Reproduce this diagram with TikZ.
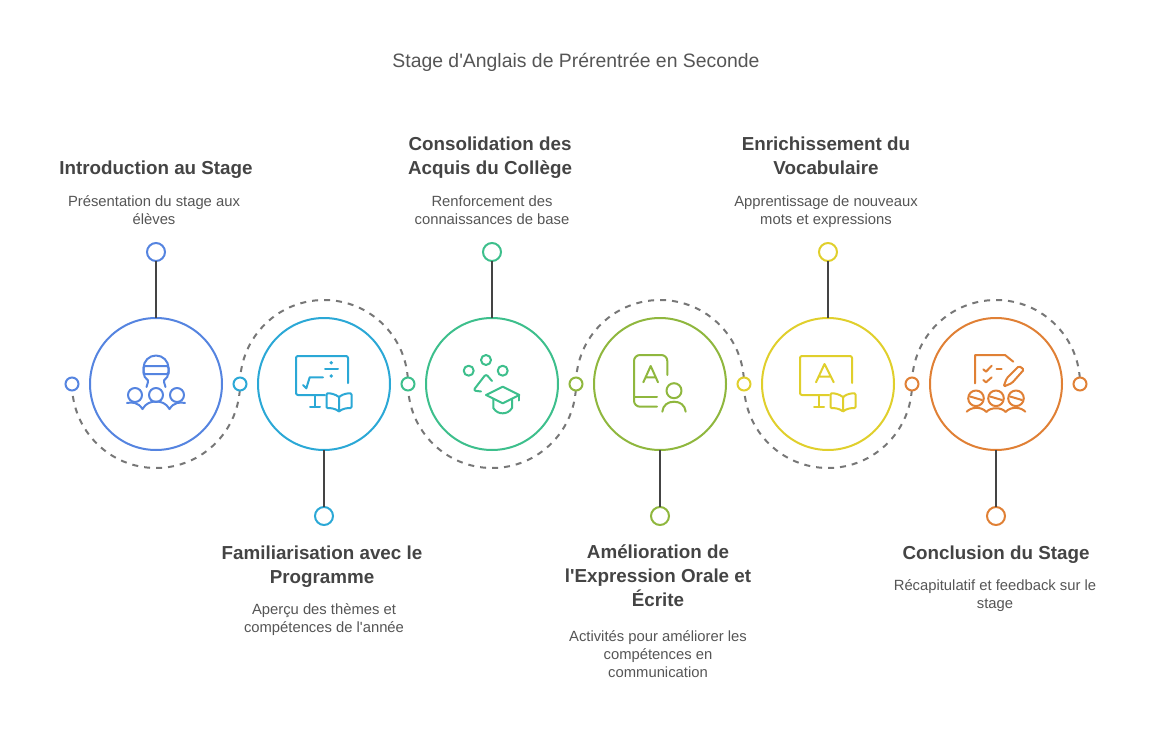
\documentclass[tikz,border=0pt]{standalone}
\usepackage{fontspec}
\setmainfont{Liberation Sans}
\usetikzlibrary{backgrounds}
\definecolor{bluec}{HTML}{5584E0}
\definecolor{tealc}{HTML}{2BA8D6}
\definecolor{greenc}{HTML}{3DBF8C}
\definecolor{olivec}{HTML}{8FB73E}
\definecolor{yellowc}{HTML}{E0CF2C}
\definecolor{orangec}{HTML}{E08035}
\definecolor{inkc}{HTML}{444444}
\definecolor{textc}{HTML}{555555}
\definecolor{dashc}{HTML}{777777}
\tikzset{
  bigdisc/.style={circle, draw, line width=2, fill=white, minimum size=132, inner sep=0, outer sep=0},
  enddot/.style={circle, draw, line width=2, fill=white, minimum size=18, inner sep=0, outer sep=0},
  railnode/.style={circle, draw, line width=2, fill=white, minimum size=13, inner sep=0, outer sep=0},
  stem/.style={draw=inkc, line width=2},
  track/.style={draw=dashc, line width=2, dash pattern=on 6 off 6},
  icon/.style={line width=2, line cap=round, line join=round},
  headline/.style={font=\fontsize{18.8}{24}\selectfont\bfseries, text=inkc, align=center, inner sep=0},
  blurb/.style={font=\fontsize{14.8}{18}\selectfont, text=textc, align=center, inner sep=0},
  pics/screenbook/.style={code={
    \draw[rounded corners=2] (24,-1) -- (24,-28) -- (-28,-28) -- (-28,11) -- (1,11);
    \draw (-9,11) -- (-9,23) (-14,23) -- (-4,23);
    \draw[rounded corners=1] (15,13) .. controls (11,10) and (6,9) .. (2.5,9.5) -- (2.5,24) .. controls (7,24) and (11,24.5) .. (15,27.5) .. controls (19,24.5) and (23,24) .. (27.5,24) -- (27.5,9.5) .. controls (24,9) and (19,10) .. (15,13) -- (15,27.5);
  }}
}

\begin{document}
\begin{tikzpicture}[x=1pt, y=1pt]
\useasboundingbox (0,0) rectangle (1152,-744);

\node[font=\fontsize{19.4}{24}\selectfont, text=textc, inner sep=0] (title) at (576,-62) {Stage d\textquotesingle Anglais de Prérentrée en Seconde};

% main circles
\foreach \name/\px/\col in {intro/156/bluec, fam/324/tealc, cons/492/greenc, amel/660/olivec, enri/828/yellowc, conc/996/orangec}
  \node[bigdisc, draw=\col] (\name) at (\px,-384) {};

% small circles on the dashed track
\foreach \name/\px/\col in {railA/72/bluec, railB/240/tealc, railC/408/greenc, railD/576/olivec, railE/744/yellowc, railF/912/orangec, railG/1080/orangec}
  \node[railnode, draw=\col] (\name) at (\px,-384) {};

\begin{scope}[on background layer]
\draw[track] (railA.center) arc (180:360:84);
\draw[track] (railB.center) arc (180:0:84);
\draw[track] (railC.center) arc (180:360:84);
\draw[track] (railD.center) arc (180:0:84);
\draw[track] (railE.center) arc (180:360:84);
\draw[track] (railF.center) arc (180:0:84);
\end{scope}

% stems
\foreach \name/\px/\py/\col in {intro/156/-252/bluec, fam/324/-516/tealc, cons/492/-252/greenc, amel/660/-516/olivec, enri/828/-252/yellowc, conc/996/-516/orangec} {
  \node[enddot, draw=\col] (\name end) at (\px,\py) {};
  \draw[stem] (\name end) -- (\name);
}

% labels
\node[headline] (introhead) at (156,-170) {Introduction au Stage};
\node[blurb] (introtext) at (154,-210) {Présentation du stage aux\\élèves};
\node[headline] (famhead) at (322,-567) {Familiarisation avec le\\Programme};
\node[blurb] (famtext) at (324,-620) {Aperçu des thèmes et\\compétences de l\textquotesingle année};
\node[headline] (conshead) at (490,-158) {Consolidation des\\Acquis du Collège};
\node[blurb] (constext) at (492,-210) {Renforcement des\\connaissances de base};
\node[headline] (amelhead) at (658,-576) {Amélioration de\\l\textquotesingle Expression Orale et\\Écrite};
\node[blurb] (ameltext) at (658,-654) {Activités pour améliorer les\\compétences en\\communication};
\node[headline] (enrihead) at (826,-156) {Enrichissement du\\Vocabulaire};
\node[blurb] (enritext) at (826,-212) {Apprentissage de nouveaux\\mots et expressions};
\node[headline] (conchead) at (996,-555) {Conclusion du Stage};
\node[blurb] (conctext) at (995,-596) {Récapitulatif et feedback sur le\\stage};

% icon of the first circle
\begin{scope}[shift={(156,-384)}, yscale=-1, icon, draw=bluec]
\draw (-12.5,-10) -- (-12.5,-16) arc (180:360:12.5) -- (12.5,-10);
\draw[rounded corners=2] (-12.5,-18) -- (12.5,-18) -- (12.5,-10) -- (-12.5,-10) -- cycle;
\draw (-12,-10) .. controls (-12,-5) and (-7,-5) .. (-8,-2) .. controls (-8.5,0) and (-9,1) .. (-9.5,3);
\draw (12,-10) .. controls (12,-5) and (7,-5) .. (8,-2) .. controls (8.5,0) and (9,1) .. (9.5,3);
\foreach \px in {-21,0,21} {\draw (\px,11) circle (7);}
\draw (-29,19) .. controls (-24,18) and (-18,18) .. (-13.5,25) .. controls (-10,19) and (-5,17.5) .. (0,17.5) .. controls (5,17.5) and (10,19) .. (13.5,25) .. controls (18,18) and (24,18) .. (29,19);
\end{scope}

% icon of the second circle
\begin{scope}[shift={(324,-384)}, yscale=-1, icon, draw=tealc]
\pic[transform shape] {screenbook};
\draw (1,-14.7) -- (14,-14.7);
\fill[tealc] (7.3,-21.3) circle (1.9) (7.3,-8) circle (1.9);
\draw (-21,1) -- (-17.7,4.3) -- (-14.3,-6.7) -- (-1,-6.7);
\end{scope}

% icon of the third circle
\begin{scope}[shift={(492,-384)}, yscale=-1, icon, draw=greenc]
\draw (-23.3,-13.3) circle (5) (-6,-24) circle (5) (10.7,-13.3) circle (5);
\draw[rounded corners=2.5] (0,-3) -- (-6,-10) -- (-18.7,6.5) -- (-11,7.5);
\draw (-6,11) -- (10.7,2.7) -- (27.3,11) -- (10.7,19.3) -- cycle;
\draw (27.3,11) -- (27.3,16.5);
\draw (1.3,15.3) -- (1.3,24) .. controls (4,28) and (7,29.3) .. (10.7,29.3) .. controls (14,29.3) and (17.5,28) .. (20,24) -- (20,15.3);
\end{scope}

% icon of the fourth circle
\begin{scope}[shift={(660,-384)}, yscale=-1, icon, draw=olivec]
\draw[rounded corners=6] (7.3,-9) -- (7.3,-29) -- (-26,-29) -- (-26,22.7) -- (-3,22.7);
\draw (-26,12.7) -- (-3,12.7);
\draw (-16.7,-1.7) -- (-9.3,-18) -- (-2,-1.7) (-14.5,-6.7) -- (-4.2,-6.7);
\draw (14,6.7) circle (7.5);
\draw (2.3,27.7) .. controls (3,21) and (8,17.7) .. (14,17.7) .. controls (20,17.7) and (25,21) .. (25.7,27.7);
\end{scope}

% icon of the fifth circle
\begin{scope}[shift={(828,-384)}, yscale=-1, icon, draw=yellowc]
\pic[transform shape] {screenbook};
\draw (-12,-1.7) -- (-3.5,-20) -- (5.7,-1.7) (-9.5,-7.3) -- (3,-7.3);
\end{scope}

% icon of the sixth circle
\begin{scope}[shift={(996,-384)}, yscale=-1, icon, draw=orangec]
\draw (-21,-0.7) -- (-21,-29) -- (9,-29) -- (17.3,-22.3);
\draw (-12.7,-14.7) -- (-10,-12.3) -- (-4.3,-18.3);
\draw (0.7,-14.7) -- (5.7,-14.7);
\draw (-12.7,-4) -- (-10,-1.7) -- (-4.3,-6.7);
\draw[rounded corners=1.5] (7.5,2.7) -- (10.7,-5.7) -- (23,-18) -- (28,-14.5) -- (16,-1) -- cycle;
\foreach \px in {-20,0,20} {
  \draw (\px,14.3) circle (7.8);
  \draw (\px-6,12.5) -- (\px+6,16);
}
\draw (-29.3,27.7) .. controls (-25,23) and (-15,22) .. (-9.5,28) .. controls (-6,23) and (6,23) .. (9.5,28) .. controls (15,22) and (25,23) .. (29.3,27.7);
\end{scope}
\end{tikzpicture}
\end{document}
